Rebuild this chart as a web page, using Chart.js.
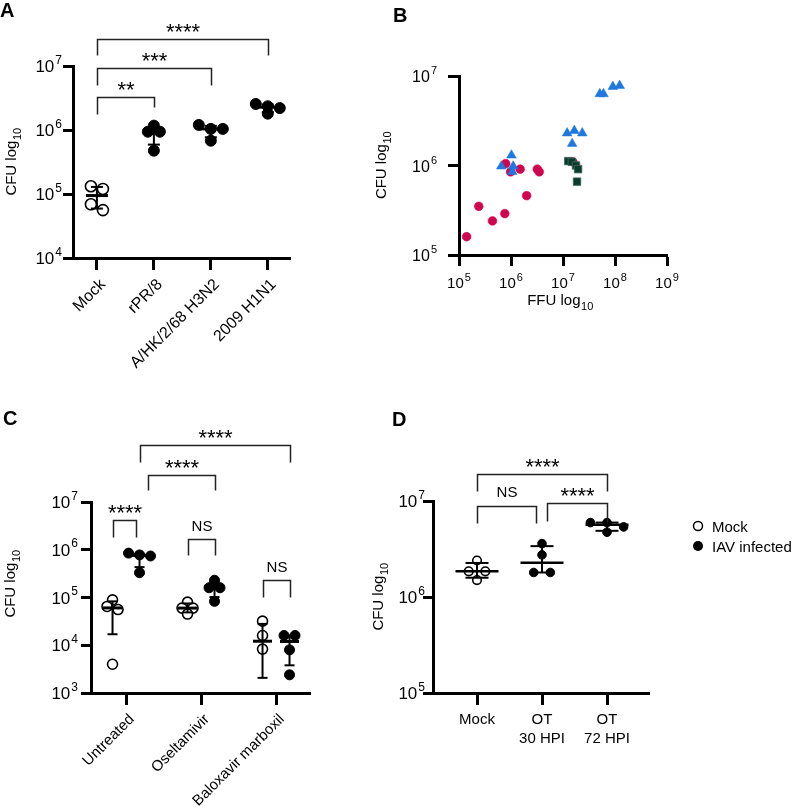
<!DOCTYPE html>
<html>
<head>
<meta charset="utf-8">
<title>CFU panels</title>
<script src="https://cdn.jsdelivr.net/npm/chart.js@4.4.1/dist/chart.umd.min.js"></script>
<style>
  body { margin: 0; background: #fff; }
  .panel { position: absolute; }
</style>
</head>
<body>
<canvas id="panelA" class="panel" width="300" height="400" style="left:0;top:0"></canvas>
<canvas id="panelB" class="panel" width="435" height="320" style="left:360px;top:0"></canvas>
<canvas id="panelC" class="panel" width="340" height="411" style="left:0;top:400px"></canvas>
<canvas id="panelD" class="panel" width="435" height="411" style="left:360px;top:400px"></canvas>
<script>
const FONT = '"Liberation Sans", Arial, Helvetica, sans-serif';
const INK = '#000';

// ---- A: CFU by virus strain
const strainsA = ['Mock', 'rPR/8', 'A/HK/2/68 H3N2', '2009 H1N1'];
const mockA = [1.32e5, 1.2e5, 6.9e4, 5.6e4];
const prA = [1.17e6, 9.4e5, 9.4e5, 4.75e5];
const hkA = [1.2e6, 1.04e6, 1.04e6, 6.8e5];
const h1n1A = [2.55e6, 2.35e6, 2.2e6, 1.8e6];
const ticksA = [1e4, 1e5, 1e6, 1e7];

// ---- B: CFU vs FFU
const ticksBx = [1e5, 1e6, 1e7, 1e8, 1e9];
const ticksBy = [1e5, 1e6, 1e7];
const redFFU = [1.4e5, 2.4e5, 4.4e5, 7.6e5, 7.9e5, 9.8e5, 1.5e6, 2.0e6, 3.2e6, 3.5e6, 1.55e7];
const redCFU = [1.6e5, 3.5e5, 2.4e5, 2.9e5, 1.05e6, 8.5e5, 9.1e5, 4.6e5, 9.1e5, 8.5e5, 1.1e6];
const blueFFU = [6.5e5, 1.02e6, 1.1e6, 1.06e6, 1.2e7, 1.65e7, 2.35e7, 1.5e7, 5.1e7, 6.0e7, 9.1e7, 1.23e8];
const blueCFU = [9.8e5, 1.3e6, 9.8e5, 8.5e5, 2.3e6, 2.45e6, 2.3e6, 1.75e6, 6.3e6, 6.3e6, 7.6e6, 7.8e6];
const greenFFU = [1.26e7, 1.48e7, 1.78e7, 1.95e7, 1.86e7];
const greenCFU = [1.12e6, 1.1e6, 1.0e6, 9.1e5, 6.6e5];

// ---- C: antiviral treatment (mock vs IAV infected)
const treatC = ['Untreated', 'Oseltamivir', 'Baloxavir marboxil'];
const mockC = [[8.9e4, 6.5e4, 5.6e4, 4.0e3], [8.0e4, 6.0e4, 6.0e4, 4.5e4], [3.2e4, 1.6e4, 8.3e3, 0]];
const iavC = [[8.5e5, 7.8e5, 7.4e5, 3.3e5], [2.3e5, 1.6e5, 1.6e5, 8.3e4], [1.6e4, 1.6e4, 8.0e3, 2.4e3]];
const ticksC = [1e3, 1e4, 1e5, 1e6, 1e7];

// ---- D: time course
const timesD = [['Mock'], ['OT', '30 HPI'], ['OT', '72 HPI']];
const cfuD = [[2.4e6, 1.85e6, 1.85e6, 1.5e6], [3.6e6, 2.75e6, 1.8e6, 1.8e6], [5.96e6, 5.96e6, 5.37e6, 4.73e6]];
const ticksD = [1e5, 1e6, 1e7];

// Prism style quartiles (n+1 method)
function quant(sorted, p) {
  const n = sorted.length;
  const pos = (n + 1) * p;
  if (pos <= 1) return sorted[0];
  if (pos >= n) return sorted[n - 1];
  const lo = Math.floor(pos);
  return sorted[lo - 1] + (pos - lo) * (sorted[lo] - sorted[lo - 1]);
}

function seg(ctx, x1, y1, x2, y2) {
  ctx.beginPath();
  ctx.moveTo(x1, y1);
  ctx.lineTo(x2, y2);
  ctx.stroke();
}

// "10" with a raised exponent
function powLabel(ctx, x, y, exp, size, align) {
  const es = Math.round(size * 0.7);
  ctx.font = size + 'px ' + FONT;
  const wb = ctx.measureText('10').width;
  ctx.font = es + 'px ' + FONT;
  const we = ctx.measureText(exp).width;
  let left = x;
  if (align === 'right') left = x - wb - we - 1;
  if (align === 'center') left = x - (wb + we + 1) / 2;
  ctx.textAlign = 'left';
  ctx.textBaseline = 'alphabetic';
  ctx.font = size + 'px ' + FONT;
  ctx.fillText('10', left, y);
  ctx.font = es + 'px ' + FONT;
  ctx.fillText(exp, left + wb + 1, y - size * 0.5);
}

// axis title with subscript, centred on (cx, cy)
function subTitle(ctx, main, sub, cx, cy, size, vertical) {
  ctx.save();
  ctx.translate(cx, cy);
  if (vertical) ctx.rotate(-Math.PI / 2);
  const ss = Math.round(size * 0.72);
  ctx.font = size + 'px ' + FONT;
  const wm = ctx.measureText(main).width;
  ctx.font = ss + 'px ' + FONT;
  const ws = ctx.measureText(sub).width;
  const left = -(wm + ws) / 2;
  const base = size * 0.36;
  ctx.textAlign = 'left';
  ctx.textBaseline = 'alphabetic';
  ctx.font = size + 'px ' + FONT;
  ctx.fillText(main, left, base);
  ctx.font = ss + 'px ' + FONT;
  ctx.fillText(sub, left + wm + 0.5, base + size * 0.28);
  ctx.restore();
}

function panelLetter(ctx, letter, x, y) {
  ctx.font = 'bold 20px ' + FONT;
  ctx.textAlign = 'left';
  ctx.textBaseline = 'alphabetic';
  ctx.fillStyle = INK;
  ctx.fillText(letter, x, y);
}

function axis(type, min, max, ticks, tickLen, fit) {
  return {
    type, min, max,
    afterBuildTicks: s => { s.ticks = ticks.map(v => ({ value: v })); },
    afterFit: fit,
    ticks: { display: false },
    grid: { display: true, drawOnChartArea: false, drawTicks: true, tickLength: tickLen, tickWidth: 3, tickColor: INK },
    border: { display: true, width: 3, color: INK }
  };
}

// spread points of about the same height sideways, rows of at most three
function spread(chart, step, radius) {
  const xs = chart.scales.x, ys = chart.scales.y;
  const unit = xs.getPixelForValue(1) - xs.getPixelForValue(0);
  chart.data.datasets.forEach(ds => {
    const pts = ds.data.map(p => ({ p, py: ys.getPixelForValue(p.y) })).sort((a, b) => a.py - b.py);
    let row = [];
    const flush = () => {
      row.forEach((q, k) => { q.p.x = ds.center + (k - (row.length - 1) / 2) * step / unit; });
      row = [];
    };
    pts.forEach(q => {
      if (row.length && (q.py - row[row.length - 1].py > radius * 1.1 || row.length === 3)) flush();
      row.push(q);
    });
    flush();
  });
  chart.update('none');
}

function drawBracket(ctx, xs, ys, groups, b, o) {
  const x1 = Math.round(xs.getPixelForValue(groups[b.a].x) + (b.dxa || 0)) + 0.5;
  const x2 = Math.round(xs.getPixelForValue(groups[b.b].x) + (b.dxb || 0)) + 0.5;
  const y = Math.round(ys.getPixelForValue(b.at)) + 0.5;
  ctx.lineWidth = 1.5;
  ctx.strokeStyle = '#222';
  ctx.beginPath();
  ctx.moveTo(x1, y + b.legs[0]);
  ctx.lineTo(x1, y);
  ctx.lineTo(x2, y);
  ctx.lineTo(x2, y + b.legs[1]);
  ctx.stroke();
  ctx.fillStyle = INK;
  ctx.textAlign = 'center';
  ctx.textBaseline = 'alphabetic';
  if (b.text === 'NS') {
    ctx.font = '15px ' + FONT;
    ctx.fillText('NS', (x1 + x2) / 2, y - (o.nsLift || 9));
  } else {
    ctx.font = '22px ' + FONT;
    ctx.fillText(b.text, (x1 + x2) / 2, y - 1);
  }
}

function dotPanel(id, o) {
  const groups = o.groups;
  const chart = new Chart(document.getElementById(id), {
    type: 'scatter',
    data: {
      datasets: groups.map(g => ({
        data: g.values.filter(v => v > 0).map(v => ({ x: g.x, y: v })),
        center: g.x,
        groupValues: g.values,
        pointRadius: o.radius,
        pointHoverRadius: o.radius,
        pointBackgroundColor: g.open ? '#fff' : INK,
        pointBorderColor: INK,
        pointBorderWidth: g.open ? 1.6 : 1,
        clip: false
      }))
    },
    options: {
      responsive: false,
      animation: false,
      devicePixelRatio: 1,
      events: [],
      layout: { padding: o.pad },
      plugins: { legend: { display: false }, tooltip: { enabled: false } },
      scales: {
        x: axis('linear', o.xMin, o.xMax, o.cats.map((c, i) => i), o.xTickLen, s => { s.height = o.xH; }),
        y: axis('logarithmic', o.yMin, o.yMax, o.yTicks, o.yTickLen, s => { s.width = o.yW; })
      }
    },
    plugins: [{
      id: 'dotDecor',
      afterDatasetsDraw(c) {
        const ctx = c.ctx, xs = c.scales.x, ys = c.scales.y;
        ctx.save();
        ctx.strokeStyle = INK;
        c.data.datasets.forEach(ds => {
          const s = ds.groupValues.slice().sort((a, b) => a - b);
          const cx = xs.getPixelForValue(ds.center);
          const yMed = ys.getPixelForValue(quant(s, 0.5));
          const y1 = ys.getPixelForValue(quant(s, 0.25));
          const y3 = ys.getPixelForValue(quant(s, 0.75));
          ctx.lineWidth = 2;
          seg(ctx, cx, y1, cx, y3);
          seg(ctx, cx - o.capW / 2, y1, cx + o.capW / 2, y1);
          seg(ctx, cx - o.capW / 2, y3, cx + o.capW / 2, y3);
          ctx.lineWidth = o.medLine;
          seg(ctx, cx - o.medW / 2, yMed, cx + o.medW / 2, yMed);
        });
        ctx.restore();
      },
      afterDraw(c) {
        const ctx = c.ctx, xs = c.scales.x, ys = c.scales.y, area = c.chartArea;
        ctx.save();
        ctx.fillStyle = INK;
        ys.ticks.forEach(t => {
          const py = ys.getPixelForValue(t.value);
          powLabel(ctx, area.left - o.yTickLen - o.yGap, py + 6, String(Math.round(Math.log10(t.value))), o.yFont, 'right');
        });
        ctx.fillStyle = INK;
        o.cats.forEach((cat, i) => {
          const px = xs.getPixelForValue(i);
          const lines = Array.isArray(cat) ? cat : [cat];
          ctx.font = o.xFont + 'px ' + FONT;
          if (o.rotate) {
            ctx.save();
            ctx.translate(px + 6, area.bottom + 24);
            ctx.rotate(-Math.PI / 4);
            ctx.textAlign = 'right';
            ctx.textBaseline = 'middle';
            ctx.fillText(lines[0], 0, 0);
            ctx.restore();
          } else {
            ctx.textAlign = 'center';
            ctx.textBaseline = 'alphabetic';
            lines.forEach((ln, k) => ctx.fillText(ln, px, area.bottom + 31 + k * 19));
          }
        });
        subTitle(ctx, 'CFU log', '10', o.title[0], o.title[1], 15, true);
        o.brackets.forEach(b => drawBracket(ctx, xs, ys, groups, b, o));
        panelLetter(ctx, o.letter[0], o.letter[1], o.letter[2]);
        if (o.legend) {
          const [lx, ly] = o.legend;
          ctx.lineWidth = 1.5;
          ctx.strokeStyle = INK;
          ctx.fillStyle = '#fff';
          ctx.beginPath(); ctx.arc(lx, ly, 4.5, 0, Math.PI * 2); ctx.fill(); ctx.stroke();
          ctx.fillStyle = INK;
          ctx.beginPath(); ctx.arc(lx, ly + 20, 5, 0, Math.PI * 2); ctx.fill();
          ctx.font = '15px ' + FONT;
          ctx.textAlign = 'left';
          ctx.textBaseline = 'alphabetic';
          ctx.fillText('Mock', lx + 14, ly + 5.5);
          ctx.fillText('IAV infected', lx + 14, ly + 25.5);
        }
        ctx.restore();
      }
    }]
  });
  spread(chart, o.step, o.radius);
  return chart;
}

// ---- Panel A
const groupsA = [
  { values: mockA, x: 0, open: true },
  { values: prA, x: 1 },
  { values: hkA, x: 2 },
  { values: h1n1A, x: 3 }
];
dotPanel('panelA', {
  groups: groupsA, cats: strainsA, rotate: true, xFont: 16,
  xMin: -0.42, xMax: 3.39, yMin: 1e4, yMax: 1e7, yTicks: ticksA,
  pad: { left: 0, top: 66, right: 10, bottom: 0 }, yW: 73, xH: 142,
  xTickLen: 12, yTickLen: 10, yGap: 1, yFont: 17,
  radius: 5.5, step: 12, medW: 22, capW: 12, medLine: 3,
  title: [11, 162], letter: ['A', 0, 17],
  brackets: [
    { a: 0, b: 1, at: 3.3e6, legs: [17, 10], text: '**' },
    { a: 0, b: 2, at: 9.3e6, legs: [17, 17], text: '***' },
    { a: 0, b: 3, at: 2.6e7, legs: [16, 16], text: '****' }
  ]
});

// ---- Panel C
const groupsC = [];
treatC.forEach((t, i) => {
  groupsC.push({ values: mockC[i], x: i - 0.18, open: true });
  groupsC.push({ values: iavC[i], x: i + 0.18 });
});
dotPanel('panelC', {
  groups: groupsC, cats: treatC, rotate: true, xFont: 15,
  xMin: -0.467, xMax: 2.453, yMin: 1e3, yMax: 1e7, yTicks: ticksC,
  pad: { left: 0, top: 102, right: 30, bottom: 0 }, yW: 91, xH: 118,
  xTickLen: 12, yTickLen: 10, yGap: 3, yFont: 17,
  radius: 5, step: 11, medW: 19, capW: 10, medLine: 3,
  title: [10, 184], letter: ['C', 3, 25],
  brackets: [
    { a: 0, b: 1, at: 4.2e6, legs: [17, 17], text: '****', dxb: -4 },
    { a: 2, b: 3, at: 1.7e6, legs: [16, 16], text: 'NS' },
    { a: 4, b: 5, at: 2.36e5, legs: [17, 17], text: 'NS' },
    { a: 1, b: 3, at: 3.66e7, legs: [15, 15], text: '****', dxa: 8 },
    { a: 1, b: 5, at: 1.55e8, legs: [17, 17], text: '****' }
  ]
});

// ---- Panel D
const groupsD = cfuD.map((v, i) => ({ values: v, x: i, open: i === 0 }));
dotPanel('panelD', {
  groups: groupsD, cats: timesD, rotate: false, xFont: 15,
  xMin: -0.677, xMax: 2.646, yMin: 1e5, yMax: 1e7, yTicks: ticksD,
  pad: { left: 0, top: 101, right: 146, bottom: 0 }, yW: 73, xH: 118,
  xTickLen: 12, yTickLen: 10, yGap: -2, yFont: 17,
  radius: 4.3, step: 16.6, medW: 43, capW: 23, medLine: 2.5, nsLift: 10,
  title: [18, 197], letter: ['D', 32, 26], legend: [338, 126],
  brackets: [
    { a: 0, b: 1, at: 8.9e6, legs: [17, 17], text: 'NS', dxb: -6 },
    { a: 1, b: 2, at: 9.5e6, legs: [18, 19], text: '****', dxa: 5 },
    { a: 0, b: 2, at: 1.9e7, legs: [17, 17], text: '****' }
  ]
});

// ---- Panel B
const zip = (xs, ys) => xs.map((x, i) => ({ x, y: ys[i] }));
new Chart(document.getElementById('panelB'), {
  type: 'scatter',
  data: {
    datasets: [
      { data: zip(greenFFU, greenCFU), pointStyle: 'rect', pointRadius: 5.3, pointBackgroundColor: '#0b3b2e', pointBorderColor: '#3f6a5c', pointBorderWidth: 0.8, clip: false },
      { data: zip(blueFFU, blueCFU), pointStyle: 'triangle', pointRadius: 5.6, pointBackgroundColor: '#1f78dd', pointBorderColor: '#1f78dd', pointBorderWidth: 0.5, clip: false },
      { data: zip(redFFU, redCFU), pointStyle: 'circle', pointRadius: 4.4, pointBackgroundColor: '#d1054f', pointBorderColor: '#d1054f', pointBorderWidth: 0.5, clip: false }
    ]
  },
  options: {
    responsive: false,
    animation: false,
    devicePixelRatio: 1,
    events: [],
    layout: { padding: { left: 0, top: 76, right: 128, bottom: 0 } },
    plugins: { legend: { display: false }, tooltip: { enabled: false } },
    scales: {
      x: axis('logarithmic', 1e5, 1e9, ticksBx, 11, s => { s.height = 65; }),
      y: axis('logarithmic', 1e5, 1e7, ticksBy, 11, s => { s.width = 99; })
    }
  },
  plugins: [{
    id: 'scatterDecor',
    afterDraw(c) {
      const ctx = c.ctx, xs = c.scales.x, ys = c.scales.y, area = c.chartArea;
      ctx.save();
      ctx.fillStyle = INK;
      ys.ticks.forEach(t => {
        powLabel(ctx, area.left - 22, ys.getPixelForValue(t.value) + 6, String(Math.round(Math.log10(t.value))), 16, 'right');
      });
      xs.ticks.forEach(t => {
        powLabel(ctx, xs.getPixelForValue(t.value), area.bottom + 33, String(Math.round(Math.log10(t.value))), 15, 'center');
      });
      subTitle(ctx, 'FFU log', '10', (area.left + area.right) / 2 - 3, 300, 15, false);
      subTitle(ctx, 'CFU log', '10', 21, (area.top + area.bottom) / 2, 15, true);
      panelLetter(ctx, 'B', 33, 22);
      ctx.restore();
    }
  }]
});
</script>
</body>
</html>
